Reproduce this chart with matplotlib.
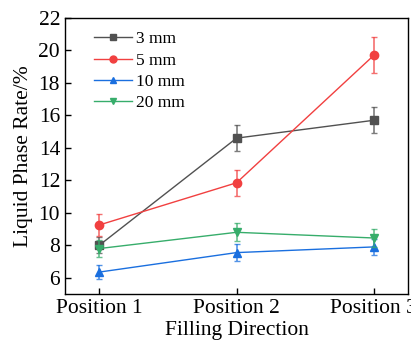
import numpy as np
import matplotlib.pyplot as plt
from matplotlib.lines import Line2D

# Data
positions = ["Position 1", "Position 2", "Position 3"]
labels = ["3 mm", "5 mm", "10 mm", "20 mm"]
mm3 = [8.0, 14.6, 15.7]
mm3_err = [0.5, 0.8, 0.8]
mm5 = [9.25, 11.85, 19.7]
mm5_err = [0.7, 0.8, 1.1]
mm10 = [6.35, 7.55, 7.9]
mm10_err = [0.45, 0.5, 0.5]
mm20 = [7.8, 8.8, 8.45]
mm20_err = [0.5, 0.55, 0.55]

colors = ["#515151", "#F14040", "#1A6FDF", "#37AD6B"]
markers = ["s", "o", "^", "v"]

plt.rcParams["font.family"] = ["Liberation Serif", "DejaVu Serif"]

fig = plt.figure(figsize=(4.11, 3.49), dpi=100)
ax = fig.add_axes([0.158, 0.1576, 0.835, 0.7908])

x = np.arange(1, len(positions) + 1)
series = [(mm3, mm3_err), (mm5, mm5_err), (mm10, mm10_err), (mm20, mm20_err)]
handles = []
for (vals, errs), lab, c, m in zip(series, labels, colors, markers):
    ax.errorbar(x, vals, yerr=errs, fmt="none", ecolor=c, elinewidth=1.2,
                capsize=2.5, capthick=1.0, alpha=0.75)
    ax.plot(x, vals, color=c, marker=m, markersize=6, linewidth=1.0)
    handles.append(Line2D([], [], color=c, marker=m, markersize=5,
                          linewidth=1.0, label=lab))

ax.set_xlim(0.75, 3.25)
ax.set_ylim(5, 22)
ax.set_xticks(x)
ax.set_xticklabels(positions)
ax.set_yticks(np.arange(6, 23, 2))
ax.tick_params(direction="in", length=4, width=1, labelsize=15.5,
               top=False, right=False)
for s in ax.spines.values():
    s.set_linewidth(1)

ax.set_xlabel("Filling Direction", fontsize=15.5, labelpad=2)
ax.set_ylabel("Liquid Phase Rate/%", fontsize=15.5, labelpad=4)

ax.legend(handles=handles, loc="upper left", bbox_to_anchor=(0.085, 0.952),
          frameon=False, fontsize=12.5, handlelength=2.2, handletextpad=0.2,
          labelspacing=0.3, borderaxespad=0, borderpad=0)

fig.savefig("out.png", dpi=100)
